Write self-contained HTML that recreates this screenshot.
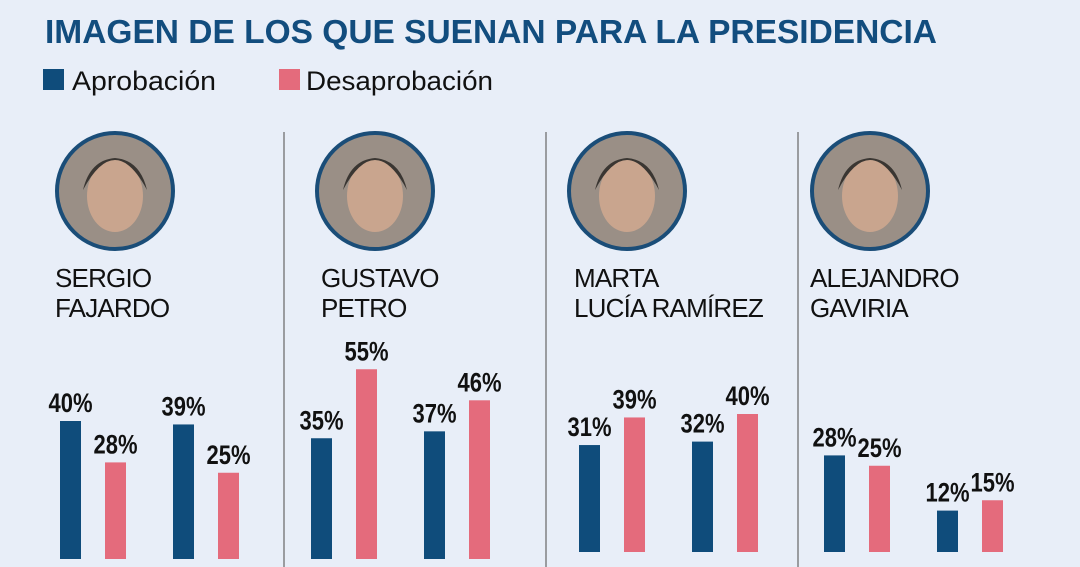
<!DOCTYPE html>
<html><head><meta charset="utf-8"><style>
body{margin:0;width:1080px;height:567px;overflow:hidden;background:#e8eef8;font-family:"Liberation Sans",sans-serif}
svg{display:block}
</style></head><body>
<svg id="c" width="1080" height="567">
<text x="45" y="43" font-size="33" font-weight="bold" fill="#124d7e" font-family="Liberation Sans Narrow, Liberation Sans, sans-serif" textLength="892" lengthAdjust="spacingAndGlyphs">IMAGEN DE LOS QUE SUENAN PARA LA PRESIDENCIA</text>
<g>
<rect x="43" y="69" width="21" height="21" fill="#0f4c7b"/>
<text x="72" y="90" font-size="27" fill="#111" textLength="144" lengthAdjust="spacingAndGlyphs">Aprobación</text>
<rect x="279" y="69" width="21" height="21" fill="#e46b7c"/>
<text x="306" y="90" font-size="27" fill="#111" textLength="187" lengthAdjust="spacingAndGlyphs">Desaprobación</text>
</g>
<g id="panels"></g>
</svg>
<script>
const names1 = ["SERGIO","GUSTAVO","MARTA","ALEJANDRO"];
const names2 = ["FAJARDO","PETRO","LUCÍA RAMÍREZ","GAVIRIA"];
const aprob1 = [40,35,31,28];
const desap1 = [28,55,39,25];
const aprob2 = [39,37,32,12];
const desap2 = [25,46,40,15];
const NS="http://www.w3.org/2000/svg";
const g=document.getElementById('panels');
const circleCx=[115,375,627,870];
const nameX=[55,321,574,810];
const baseY=[559,559,552,552];
const pxPer=3.45;
const barOff=[60,105,173,218];
function el(t,a){const e=document.createElementNS(NS,t);for(const k in a)e.setAttribute(k,a[k]);g.appendChild(e);return e;}
[284,546,798].forEach((x,i)=>{const l=el('line',{x1:x,x2:x,y1:132,y2:567,stroke:'#666','stroke-width':1.2});

});
for(let i=0;i<4;i++){
  const cx=circleCx[i];
  const c=el('circle',{cx:cx,cy:191,r:58,fill:'#9a8f86',stroke:'#1a4d78','stroke-width':4});
  
  
  const f=el('ellipse',{cx:cx,cy:196,rx:28,ry:36,fill:'#c9a58e'});
  
  
  const h=el('path',{d:`M${cx-32} 190 Q${cx} 130 ${cx+32} 190 Q${cx+25} 160 ${cx} 158 Q${cx-25} 160 ${cx-32} 190Z`,fill:'#3a3632'});
  
  
  const t1=el('text',{x:nameX[i],y:287,'font-size':26,fill:'#111','letter-spacing':-0.8});t1.textContent=names1[i];
  
  
  const t2=el('text',{x:nameX[i],y:317,'font-size':26,fill:'#111','letter-spacing':-0.8});t2.textContent=names2[i];
  
  
  const vals=[aprob1[i],desap1[i],aprob2[i],desap2[i]];
  const base=baseY[i];
  const px0=[0,251,519,764][i];
  vals.forEach((v,j)=>{
    const x=px0+barOff[j], hgt=v*pxPer;
    const r=el('rect',{x:x,y:base-hgt,width:21,height:hgt,fill:j%2?'#e46b7c':'#0f4c7b'});
    
    
    const t=el('text',{x:x+10.5,y:base-hgt-9,'text-anchor':'middle','font-size':27,'font-weight':'bold',fill:'#111',textLength:44,lengthAdjust:'spacingAndGlyphs'});
    t.textContent=v+'%';
    
    
  });
}
</script>
</body></html>
